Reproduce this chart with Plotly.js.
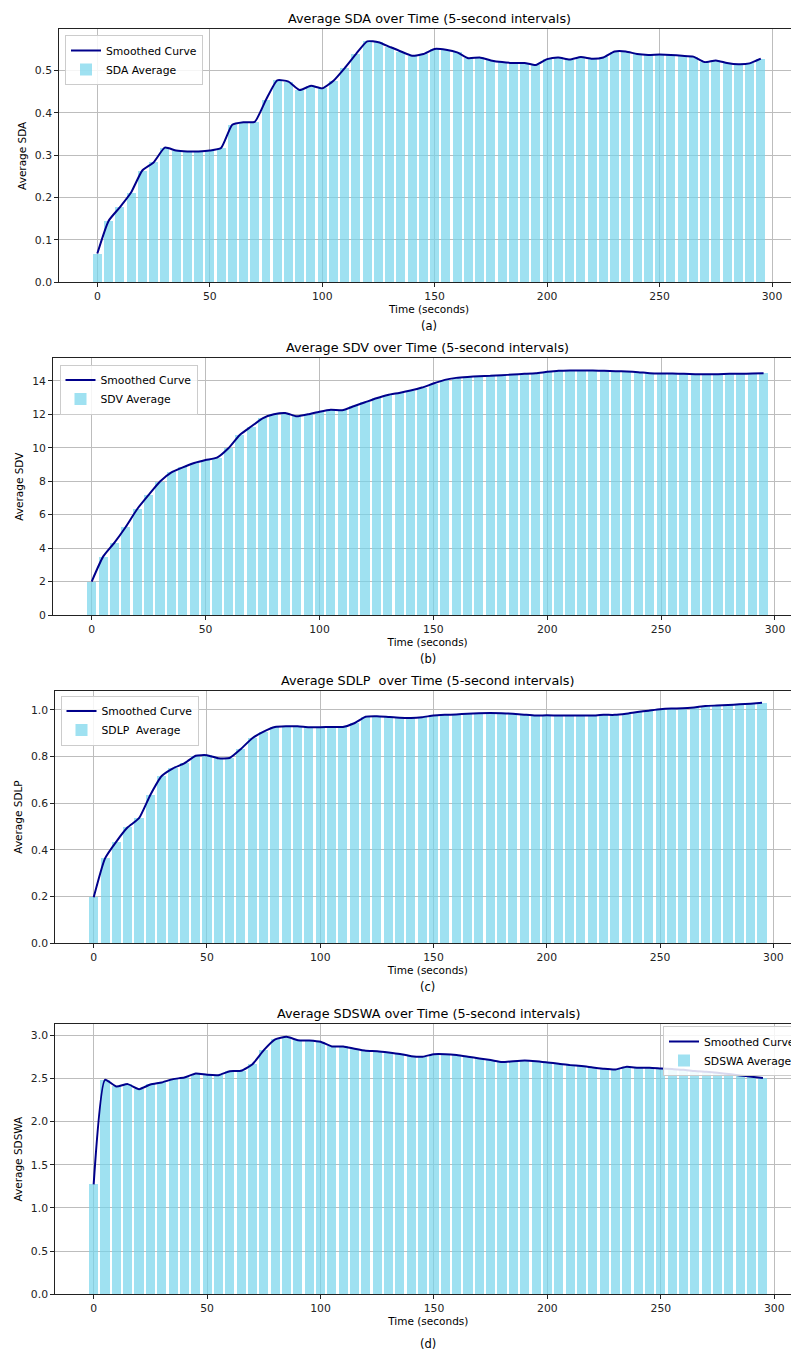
<!DOCTYPE html>
<html>
<head>
<meta charset="utf-8">
<script src="https://cdn.plot.ly/plotly-3.0.1.min.js"></script>
<style>
html,body{margin:0;padding:0;overflow:hidden;background:#fff;}
#chart{width:803px;height:1351px;}
</style>
</head>
<body>
<div id="chart"></div>
<script>
// Time axis (seconds), 5-second intervals
const timeSeconds = [0,5,10,15,20,25,30,35,40,45,50,55,60,65,70,75,80,85,90,95,100,105,110,115,120,125,130,135,140,145,150,155,160,165,170,175,180,185,190,195,200,205,210,215,220,225,230,235,240,245,250,255,260,265,270,275,280,285,290,295];

const sdaValues = [0.068,0.145,0.177,0.212,0.264,0.283,0.318,0.311,0.309,0.309,0.311,0.317,0.372,0.378,0.379,0.431,0.477,0.474,0.454,0.464,0.458,0.476,0.506,0.539,0.569,0.567,0.556,0.545,0.535,0.539,0.551,0.549,0.543,0.529,0.531,0.524,0.520,0.518,0.518,0.513,0.527,0.531,0.526,0.532,0.528,0.531,0.545,0.545,0.539,0.537,0.538,0.537,0.535,0.533,0.520,0.524,0.518,0.515,0.517,0.528];

const sdvValues = [2.0,3.49,4.33,5.28,6.34,7.18,7.98,8.53,8.83,9.09,9.27,9.41,9.97,10.77,11.27,11.76,12.0,12.08,11.88,12.0,12.16,12.28,12.24,12.48,12.72,12.96,13.16,13.28,13.42,13.6,13.84,14.06,14.18,14.24,14.28,14.3,14.34,14.38,14.42,14.46,14.54,14.6,14.62,14.62,14.62,14.6,14.58,14.56,14.52,14.46,14.44,14.44,14.42,14.4,14.4,14.4,14.42,14.42,14.44,14.46];

const sdlpValues = [0.197,0.364,0.436,0.497,0.536,0.636,0.717,0.750,0.771,0.804,0.806,0.793,0.794,0.833,0.879,0.907,0.927,0.930,0.930,0.926,0.926,0.927,0.927,0.943,0.971,0.973,0.970,0.967,0.966,0.969,0.976,0.979,0.981,0.984,0.986,0.987,0.986,0.984,0.980,0.976,0.977,0.976,0.976,0.976,0.976,0.979,0.979,0.984,0.991,0.997,1.003,1.006,1.007,1.011,1.017,1.019,1.021,1.024,1.027,1.031];

const sdswaValues = [1.273,2.483,2.406,2.433,2.375,2.429,2.452,2.491,2.510,2.556,2.541,2.537,2.583,2.587,2.664,2.826,2.950,2.980,2.942,2.938,2.923,2.869,2.869,2.842,2.819,2.815,2.800,2.782,2.757,2.750,2.780,2.780,2.769,2.750,2.730,2.711,2.688,2.699,2.707,2.699,2.684,2.669,2.653,2.642,2.626,2.611,2.603,2.634,2.622,2.622,2.614,2.607,2.599,2.584,2.576,2.564,2.549,2.534,2.518,2.503];

const metricNames = ["SDA", "SDV", "SDLP\u00a0", "SDSWA"];
const panelTitles = [
  "Average SDA over Time (5-second intervals)",
  "Average SDV over Time (5-second intervals)",
  "Average SDLP\u00a0 over Time (5-second intervals)",
  "Average SDSWA over Time (5-second intervals)"
];
const yAxisTitles = ["Average SDA", "Average SDV", "Average SDLP", "Average SDSWA"];
const barLegendNames = ["SDA Average", "SDV Average", "SDLP\u00a0 Average", "SDSWA Average"];
const panelLabels = ["(a)", "(b)", "(c)", "(d)"];
const xTickVals = [0,50,100,150,200,250,300];
const yTickVals = [
  [0,0.1,0.2,0.3,0.4,0.5],
  [0,2,4,6,8,10,12,14],
  [0,0.2,0.4,0.6,0.8,1.0],
  [0,0.5,1.0,1.5,2.0,2.5,3.0]
];
const yTickFormat = [".1f", "d", ".1f", ".1f"];

// ---- layout geometry ----
const W = 803, H = 1351;
const panels = [
  {values: sdaValues,   left: 59.2, right: 798.9, top: 29.3,  bottom: 282.3, legX: 65,  legY: 35},
  {values: sdvValues,   left: 53.1, right: 802.2, top: 358.3, bottom: 615.0, legX: 59.5, legY: 364.5},
  {values: sdlpValues,  left: 55.3, right: 800.4, top: 690.7, bottom: 943.3, legX: 60.5, legY: 695.5},
  {values: sdswaValues, left: 55.2, right: 801.4, top: 1024.0,bottom: 1294.3,legX: 663, legY: 1026}
];

const FONT = "DejaVu Sans, Liberation Sans, sans-serif";
const barColor = "rgba(118,212,235,0.7)";
const lineColor = "#00008B";

const data = [];
const layout = {
  width: W, height: H,
  margin: {l:0, r:0, t:0, b:0},
  paper_bgcolor: "#ffffff",
  plot_bgcolor: "#ffffff",
  font: {family: FONT, size: 10.5, color: "#000"},
  showlegend: true,
  annotations: [],
  bargap: 0
};

panels.forEach((p, i) => {
  const n = i + 1;
  const xa = n === 1 ? "x" : "x" + n;
  const ya = n === 1 ? "y" : "y" + n;
  const legName = n === 1 ? "legend" : "legend" + n;

  data.push({
    type: "bar", x: timeSeconds, y: p.values, width: 4,
    name: barLegendNames[i],
    marker: {color: barColor, line: {width: 0}},
    xaxis: xa, yaxis: ya, legend: legName, legendrank: 2,
    hoverinfo: "x+y"
  });
  data.push({
    type: "scatter", mode: "lines", x: timeSeconds, y: p.values,
    name: "Smoothed Curve",
    line: {color: lineColor, width: 2, shape: "spline", smoothing: 0.5},
    xaxis: xa, yaxis: ya, legend: legName, legendrank: 1
  });

  const ymax = Math.max.apply(null, p.values) * 1.05;
  const axCommon = {
    showline: true, mirror: true, linecolor: "#222", linewidth: 1,
    showgrid: true, gridcolor: "#bdbdbd", gridwidth: 1,
    ticks: "outside", ticklen: 4, tickwidth: 1, tickcolor: "#222",
    zeroline: false, tickfont: {family: FONT, size: 10.8, color: "#222"}
  };
  layout["xaxis" + (n === 1 ? "" : n)] = Object.assign({}, axCommon, {
    domain: [p.left / W, p.right / W],
    anchor: ya,
    range: [-16.95, 311.95],
    tickmode: "array", tickvals: xTickVals,
    title: {text: "Time (seconds)", font: {family: FONT, size: 10.5, color: "#000"}, standoff: 3}
  });
  layout["yaxis" + (n === 1 ? "" : n)] = Object.assign({}, axCommon, {
    domain: [(H - p.bottom) / H, (H - p.top) / H],
    anchor: xa,
    range: [0, ymax],
    tickmode: "array", tickvals: yTickVals[i], tickformat: yTickFormat[i],
    title: {text: yAxisTitles[i], font: {family: FONT, size: 10.5, color: "#000"}, standoff: 6}
  });
  layout[legName] = {
    x: p.legX / W, y: (H - p.legY) / H, xanchor: "left", yanchor: "top",
    xref: "paper", yref: "paper",
    bgcolor: "rgba(255,255,255,0.85)", bordercolor: "#cccccc", borderwidth: 1,
    font: {family: FONT, size: 10.8, color: "#000"},
    itemwidth: 30, tracegroupgap: 0, traceorder: "normal"
  };
  layout.annotations.push({
    text: panelTitles[i],
    xref: xa + " domain", yref: ya + " domain", x: 0.5, y: 1,
    xanchor: "center", yanchor: "bottom", yshift: 1, showarrow: false,
    font: {family: FONT, size: 12.8, color: "#000"}
  });
  layout.annotations.push({
    text: panelLabels[i],
    xref: xa + " domain", yref: ya + " domain", x: 0.5, y: 0,
    xanchor: "center", yanchor: "top", yshift: (n === 4 ? -41 : -35), showarrow: false,
    font: {family: FONT, size: 11.5, color: "#000"}
  });
});

Plotly.newPlot("chart", data, layout, {displayModeBar: false, staticPlot: true});
</script>
</body>
</html>
